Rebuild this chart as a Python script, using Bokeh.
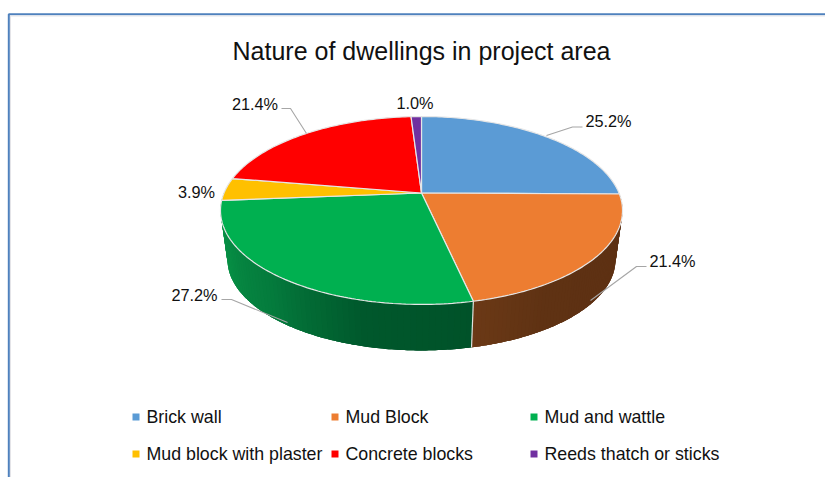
import math
from bokeh.core.properties import value
from bokeh.embed import file_html
from bokeh.models import ColumnDataSource, Range1d
from bokeh.plotting import figure
from bokeh.resources import INLINE

# Chart content
title_text = "Nature of dwellings in project area"
categories = ["Brick wall", "Mud Block", "Mud and wattle",
              "Mud block with plaster", "Concrete blocks", "Reeds thatch or sticks"]
shares = [25.2, 21.4, 27.2, 3.9, 21.4, 1.0]
colors = ["#5b9bd5", "#ed7d31", "#00b050", "#ffc000", "#ff0000", "#7030a0"]

FONT = "Liberation Sans"
W, H = 825, 477

# Tilted-disc projection: canvas pixels, y growing downwards
CX, CY = 421.0, 192.5
RX, RY = 197.5, 90.7
TILT = 0.186
FLOOR_SCALE, FLOOR_DROP = 0.965, 49.9


def project(turn, scale=1.0, drop=0.0, radius=1.0):
    """Canvas position of a rim point given as a fraction of a turn, clockwise from 12 o'clock."""
    u = radius * math.sin(2 * math.pi * turn)
    v = radius * math.cos(2 * math.pi * turn)
    w = 1 + TILT * v
    return CX + scale * RX * u / w, CY + drop - scale * RY * v / w


def lerp_hex(stops, t):
    t = max(0.0, min(1.0, t))
    pos = t * (len(stops) - 1)
    i = min(int(pos), len(stops) - 2)
    f = pos - i
    a, b = stops[i], stops[i + 1]
    rgb = [round(int(a[k:k + 2], 16) * (1 - f) + int(b[k:k + 2], 16) * f) for k in (1, 3, 5)]
    return "#%02x%02x%02x" % tuple(rgb)


p = figure(width=W, height=H, output_backend="svg", toolbar_location=None,
           x_range=Range1d(0, W), y_range=Range1d(H, 0),
           min_border=0, outline_line_color=None, background_fill_color="white",
           border_fill_color="white")
p.axis.visible = False
p.grid.visible = False

# Frame along the top and left edge of the chart
p.line([8.3, 8.3, W], [H, 13.7, 13.7], line_color="#4f81bd", line_width=2)
p.line([10, 10, W], [H, 15.5, 15.5], line_color="#e4e4e8", line_width=1)

# Cumulative slice boundaries as fractions of a turn
total = sum(shares)
bounds = [0.0]
for s in shares:
    bounds.append(bounds[-1] + s / total)

# Outer wall: shaded strips for the slices on the near side of the disc.
# Each strip overlaps the next few so no seams show between them.
wall_stops = {
    1: ["#5e3113", "#5e3113", "#5e3113", "#5f3213", "#6b3916"],
    2: ["#005229", "#00582c", "#047a3c", "#078d44", "#0a9a4a"],
}
wall_range = {1: (0.25, bounds[2]), 2: (bounds[2], 0.76)}
xs_w, ys_w, cs_w = [], [], []
n = 70
overlap = 3
for idx, (a, b) in wall_range.items():
    # Brown runs from the far end towards the seam, green from the seam outwards
    order = range(n) if idx == 1 else range(n - 1, -1, -1)
    for j in order:
        if idx == 1:
            t0, t1 = a + (b - a) * j / n, a + (b - a) * min(j + overlap, n) / n
        else:
            t0, t1 = a + (b - a) * max(j - overlap + 1, 0) / n, a + (b - a) * (j + 1) / n
        steps = 6
        top = [project(t0 + (t1 - t0) * k / steps) for k in range(steps + 1)]
        low = [project(t1 - (t1 - t0) * k / steps, FLOOR_SCALE, FLOOR_DROP) for k in range(steps + 1)]
        ring = top + low
        xs_w.append([q[0] for q in ring])
        ys_w.append([q[1] for q in ring])
        cs_w.append(lerp_hex(wall_stops[idx], (j + 0.5) / n))
p.patches(xs_w, ys_w, fill_color=cs_w, line_color=None)

# Seam between the two visible wall sections
sx0, sy0 = project(bounds[2])
sx1, sy1 = project(bounds[2], FLOOR_SCALE, FLOOR_DROP)
p.line([sx0, sx1], [sy0, sy1], line_color="#dfe3df", line_width=1.2)

# Top face of the disc
xs_t, ys_t = [], []
for a, b in zip(bounds[:-1], bounds[1:]):
    m = max(6, int((b - a) * 360))
    rim = [project(a + (b - a) * j / m) for j in range(m + 1)]
    xs_t.append([CX] + [q[0] for q in rim])
    ys_t.append([CY] + [q[1] for q in rim])
p.patches(xs_t, ys_t, fill_color=colors, line_color="#e6e6e6", line_width=1.2)

# Leader lines
leaders = [
    ([546, 572, 582], [135, 126.5, 126.5]),
    ([590, 636, 646], [300, 266, 266]),
    ([287, 231, 221], [322, 299, 299]),
    ([306, 290, 281], [133, 108, 108]),
]
for lx, ly in leaders:
    p.line(lx, ly, line_color="#a6a6a6", line_width=1.1)

# Percentage labels, centred on their anchor points
label_x = [608, 672, 194, 196, 254.5, 414.5]
label_y = [120, 260, 294, 191, 103, 102]
p.text(label_x, label_y, text=[f"{s:.1f}%" for s in shares],
       text_font=value(FONT), text_font_size="16.3px", text_color="#111111",
       text_align="center", text_baseline="middle")

# Title
p.text([421], [50], text=[title_text], text_font=value(FONT), text_font_size="25px",
       text_color="#111111", text_align="center", text_baseline="middle")

# Legend in three columns and two rows
col_x = [132, 331, 530]
row_y = [416.5, 453.5]
legend = ColumnDataSource(dict(
    sx=[col_x[i % 3] + 3.5 for i in range(6)],
    tx=[col_x[i % 3] + 14 for i in range(6)],
    y=[row_y[i // 3] for i in range(6)],
    label=categories,
    color=colors,
))
p.rect("sx", "y", width=7, height=7, source=legend, fill_color="color", line_color=None)
p.text("tx", "y", text="label", source=legend, text_font=value(FONT), text_font_size="17.8px",
       text_color="#111111", text_align="left", text_baseline="middle")

open("out.html", "w").write(file_html(p, INLINE))
